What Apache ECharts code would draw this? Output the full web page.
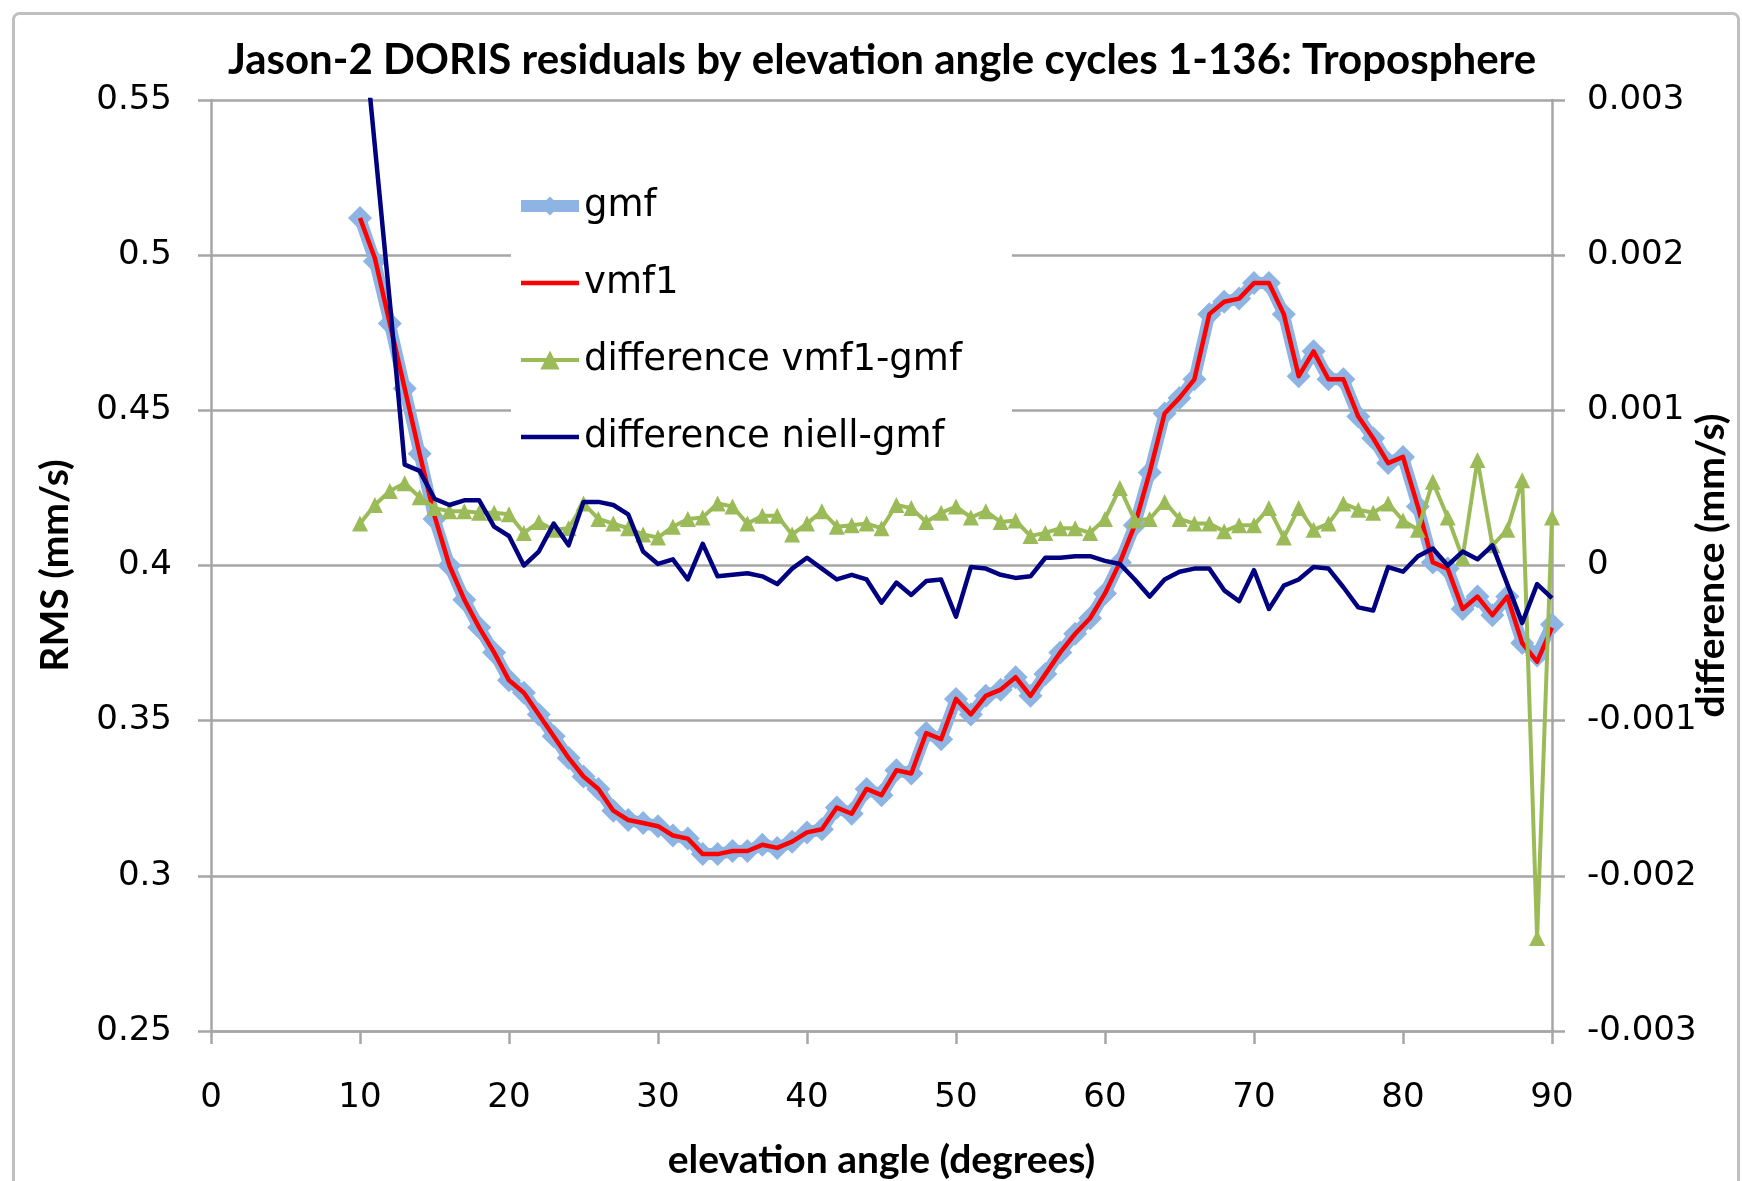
<!DOCTYPE html>
<html><head><meta charset="utf-8">
<script src="https://cdn.jsdelivr.net/npm/echarts@6/dist/echarts.min.js"></script>
<style>html,body{margin:0;padding:0;background:#fff}#c{width:1742px;height:1181px}</style>
</head><body><div id="c"></div>
<script>
// ---- data ----
const angles = [10,11,12,13,14,15,16,17,18,19,20,21,22,23,24,25,26,27,28,29,30,31,32,33,34,35,36,37,38,39,40,41,42,43,44,45,46,47,48,49,50,51,52,53,54,55,56,57,58,59,60,61,62,63,64,65,66,67,68,69,70,71,72,73,74,75,76,77,78,79,80,81,82,83,84,85,86,87,88,89,90];
const gmf = [0.512,0.498,0.478,0.457,0.436,0.415,0.400,0.389,0.380,0.372,0.363,0.359,0.352,0.345,0.338,0.332,0.328,0.321,0.318,0.317,0.316,0.313,0.312,0.307,0.307,0.308,0.308,0.310,0.309,0.311,0.314,0.315,0.322,0.320,0.328,0.326,0.334,0.333,0.346,0.344,0.357,0.352,0.358,0.360,0.364,0.358,0.365,0.372,0.378,0.383,0.391,0.401,0.413,0.430,0.449,0.454,0.460,0.481,0.485,0.486,0.491,0.491,0.481,0.461,0.469,0.460,0.460,0.448,0.441,0.433,0.435,0.419,0.401,0.399,0.386,0.390,0.384,0.390,0.375,0.371,0.381];
const vmf1 = [0.512,0.499,0.478,0.457,0.436,0.416,0.400,0.389,0.380,0.372,0.363,0.359,0.352,0.345,0.338,0.332,0.328,0.321,0.318,0.317,0.316,0.313,0.312,0.307,0.307,0.308,0.308,0.310,0.309,0.311,0.314,0.315,0.322,0.320,0.328,0.326,0.334,0.333,0.346,0.344,0.357,0.352,0.358,0.360,0.364,0.358,0.365,0.372,0.378,0.383,0.391,0.401,0.413,0.430,0.449,0.454,0.460,0.481,0.485,0.486,0.491,0.491,0.481,0.461,0.469,0.460,0.460,0.448,0.441,0.433,0.435,0.419,0.401,0.399,0.386,0.390,0.384,0.390,0.375,0.369,0.380];
const diffVmf1Gmf = [0.00027,0.00039,0.00048,0.00053,0.00044,0.00037,0.00035,0.00035,0.00034,0.00034,0.00033,0.00021,0.00028,0.00023,0.00024,0.00040,0.00030,0.00027,0.00024,0.00020,0.00018,0.00025,0.00030,0.00031,0.00040,0.00038,0.00027,0.00032,0.00032,0.00020,0.00027,0.00035,0.00025,0.00026,0.00027,0.00024,0.00039,0.00037,0.00028,0.00034,0.00038,0.00031,0.00035,0.00028,0.00029,0.00019,0.00021,0.00024,0.00024,0.00021,0.00030,0.00050,0.00029,0.00030,0.00041,0.00030,0.00027,0.00027,0.00022,0.00026,0.00026,0.00037,0.00018,0.00037,0.00023,0.00027,0.00040,0.00036,0.00034,0.00040,0.00029,0.00023,0.00054,0.00031,0.00005,0.00068,0.00013,0.00023,0.00055,-0.0024,0.00031];
const diffNiellGmf = [0.0037,0.0027,0.0017,0.00065,0.00061,0.00043,0.00039,0.00042,0.00042,0.00025,0.00019,0.00000,0.00009,0.00027,0.00013,0.00041,0.00041,0.00039,0.00033,0.00009,0.00001,0.00004,-0.00009,0.00014,-0.00007,-0.00006,-0.00005,-0.00007,-0.00012,-0.00002,0.00005,-0.00002,-0.00009,-0.00006,-0.00009,-0.00024,-0.00011,-0.00019,-0.00010,-0.00009,-0.00033,-0.00001,-0.00002,-0.00006,-0.00008,-0.00007,0.00005,0.00005,0.00006,0.00006,0.00003,0.00001,-0.00009,-0.00020,-0.00009,-0.00004,-0.00002,-0.00002,-0.00016,-0.00023,-0.00003,-0.00028,-0.00013,-0.00009,-0.00001,-0.00002,-0.00014,-0.00027,-0.00029,-0.00001,-0.00004,0.00006,0.00011,0.00000,0.00009,0.00004,0.00013,-0.00012,-0.00037,-0.00012,-0.00021];
const seriesNames = ['gmf','vmf1','difference vmf1-gmf','difference niell-gmf'];
const xRange = [0, 90, 10];
const rmsRange = [0.25, 0.55, 0.05];
const diffRange = [-0.003, 0.003, 0.001];
const titleText = 'Jason-2 DORIS residuals by elevation angle cycles 1-136: Troposphere';

const pairs = arr => angles.map((a, i) => [a, arr[i]]);
const grey = '#A6A6A6';
const tickFont = 'DejaVu Sans';
const boldFont = 'Lato';
const C_GMF = '#8DB4E2', C_VMF = '#FF0000', C_GREEN = '#9BBB59', C_NAVY = '#000080';
const W_GMF = 12, W_VMF = 4.5, W_GREEN = 4, W_NAVY = 4.5;

const chart = echarts.init(document.getElementById('c'), null, {renderer: 'canvas'});
chart.setOption({
  animation: false,
  backgroundColor: '#fff',
  title: {
    text: titleText, left: 877, top: 34, textAlign: 'center',
    textStyle: {fontFamily: boldFont, fontWeight: 'bold', fontSize: 42, color: '#000'}
  },
  graphic: [{
    type: 'rect', left: 11, top: 11, silent: true,
    shape: {width: 1725, height: 1185, r: 6},
    style: {fill: 'none', stroke: '#C0C0C0', lineWidth: 3}
  }],
  grid: {left: 211, right: 190, top: 100, bottom: 150, containLabel: false, outerBoundsMode: 'none'},
  legend: {
    orient: 'vertical', left: 511, top: 174,
    data: [
      {name: seriesNames[0], lineStyle: {width: W_GMF}},
      {name: seriesNames[1], lineStyle: {width: W_VMF}, itemStyle: {opacity: 0}},
      {name: seriesNames[2], lineStyle: {width: W_GREEN}},
      {name: seriesNames[3], lineStyle: {width: W_NAVY}, itemStyle: {opacity: 0}}
    ],
    backgroundColor: '#fff',
    padding: [12, 50, 12, 4],
    itemWidth: 58, itemHeight: 24, itemGap: 37,
    textStyle: {fontFamily: tickFont, fontSize: 37, color: '#000', lineHeight: 40}
  },
  xAxis: {
    type: 'value', min: xRange[0], max: xRange[1], interval: xRange[2],
    name: 'elevation angle (degrees)', nameLocation: 'middle', nameGap: 110, nameMoveOverlap: false,
    nameTextStyle: {fontFamily: boldFont, fontWeight: 'bold', fontSize: 39, color: '#000'},
    axisLine: {show: true, onZero: false, lineStyle: {color: grey, width: 2.5}},
    axisTick: {show: true, inside: false, length: 13, lineStyle: {color: grey, width: 2.5}},
    axisLabel: {margin: 50, fontFamily: tickFont, fontSize: 34, color: '#000'},
    splitLine: {show: false}
  },
  yAxis: [{
    type: 'value', position: 'left', min: rmsRange[0], max: rmsRange[1], interval: rmsRange[2],
    name: 'RMS (mm/s)', nameLocation: 'middle', nameGap: 136, nameRotate: 90, nameMoveOverlap: false,
    nameTextStyle: {fontFamily: boldFont, fontWeight: 'bold', fontSize: 39, color: '#000'},
    axisLine: {show: true, lineStyle: {color: grey, width: 2.5}},
    axisTick: {show: true, inside: false, length: 13, lineStyle: {color: grey, width: 2.5}},
    axisLabel: {margin: 39, fontFamily: tickFont, fontSize: 34, color: '#000',
      formatter: v => String(parseFloat(v.toFixed(2)))},
    splitLine: {show: true, lineStyle: {color: grey, width: 2.5}}
  }, {
    type: 'value', position: 'right', min: diffRange[0], max: diffRange[1], interval: diffRange[2],
    name: 'difference (mm/s)', nameLocation: 'middle', nameGap: 140, nameRotate: 90, nameMoveOverlap: false,
    nameTextStyle: {fontFamily: boldFont, fontWeight: 'bold', fontSize: 39, color: '#000'},
    axisLine: {show: true, lineStyle: {color: grey, width: 2.5}},
    axisTick: {show: true, inside: false, length: 13, lineStyle: {color: grey, width: 2.5}},
    axisLabel: {margin: 35, fontFamily: tickFont, fontSize: 34, color: '#000',
      formatter: v => String(parseFloat(v.toFixed(3)))},
    splitLine: {show: false}
  }],
  series: [{
    name: seriesNames[0], type: 'line', yAxisIndex: 0, data: pairs(gmf),
    symbol: 'diamond', symbolSize: 24, showAllSymbol: true,
    lineStyle: {color: C_GMF, width: W_GMF, join: 'round'},
    itemStyle: {color: C_GMF, borderWidth: 0}, z: 2
  }, {
    name: seriesNames[1], type: 'line', yAxisIndex: 0, data: pairs(vmf1),
    symbol: 'none', lineStyle: {color: C_VMF, width: W_VMF, join: 'round'},
    itemStyle: {color: C_VMF}, z: 3
  }, {
    name: seriesNames[2], type: 'line', yAxisIndex: 1, data: pairs(diffVmf1Gmf),
    symbol: 'triangle', symbolSize: 16, showAllSymbol: true,
    lineStyle: {color: C_GREEN, width: W_GREEN, join: 'round'},
    itemStyle: {color: C_GREEN, borderWidth: 0}, z: 4
  }, {
    name: seriesNames[3], type: 'line', yAxisIndex: 1, data: pairs(diffNiellGmf),
    symbol: 'none', lineStyle: {color: C_NAVY, width: W_NAVY, join: 'round'},
    itemStyle: {color: C_NAVY}, z: 5, clip: true
  }]
});
</script></body></html>
